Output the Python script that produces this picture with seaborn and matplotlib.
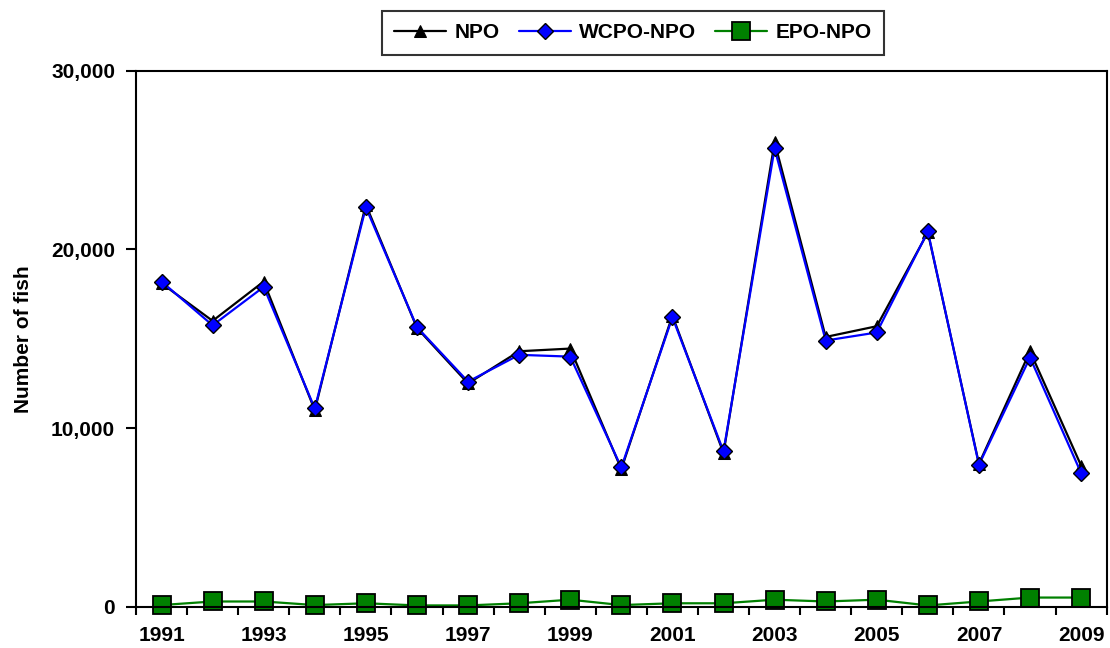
import matplotlib.pyplot as plt
import matplotlib.ticker as mticker
import seaborn as sns
import pandas as pd

years = list(range(1991, 2010))
npo = [18100, 16000, 18200, 11000, 22500, 15600, 12500, 14300, 14450, 7700,
       16300, 8600, 26000, 15100, 15700, 20950, 8000, 14300, 7900]
wcpo_npo = [18200, 15750, 17900, 11100, 22350, 15650, 12600, 14100, 14000, 7800,
            16200, 8700, 25650, 14900, 15350, 21000, 7950, 13950, 7480]
epo_npo = [100, 300, 300, 100, 200, 80, 80, 200, 400, 100,
           200, 200, 400, 300, 400, 80, 300, 520, 520]

df = pd.DataFrame({'year': years, 'NPO': npo, 'WCPO-NPO': wcpo_npo, 'EPO-NPO': epo_npo})

sns.set_style('ticks')
plt.rcParams['font.family'] = ['Liberation Sans', 'DejaVu Sans']
plt.rcParams['font.weight'] = 'bold'
plt.rcParams['text.color'] = 'black'
plt.rcParams['axes.labelcolor'] = 'black'
plt.rcParams['xtick.color'] = 'black'
plt.rcParams['ytick.color'] = 'black'

fig = plt.figure(figsize=(11.1, 6.48), dpi=100)
ax = fig.add_axes([0.1225, 0.0635, 0.8745, 0.8275])

sns.lineplot(data=df, x='year', y='NPO', ax=ax, color='black', lw=1.6,
             marker='^', markersize=9, markerfacecolor='black', markeredgecolor='black',
             label='NPO')
sns.lineplot(data=df, x='year', y='WCPO-NPO', ax=ax, color='blue', lw=1.6,
             marker='D', markersize=8, markerfacecolor='blue', markeredgecolor='black',
             markeredgewidth=1.0, label='WCPO-NPO')
sns.lineplot(data=df, x='year', y='EPO-NPO', ax=ax, color='green', lw=1.6,
             marker='s', markersize=12.5, markerfacecolor='green', markeredgecolor='black',
             markeredgewidth=1.3, label='EPO-NPO', clip_on=False)

ax.set_xlim(1990.5, 2009.5)
ax.set_ylim(0, 30000)
ax.set_yticks([0, 10000, 20000, 30000])
ax.yaxis.set_major_formatter(mticker.FuncFormatter(lambda v, p: f'{int(v):,}'))
# category boundaries carry the tick marks, every second year gets a label
ax.xaxis.set_major_locator(mticker.FixedLocator([y + 0.5 for y in range(1990, 2010)]))
ax.xaxis.set_major_formatter(mticker.NullFormatter())
ax.xaxis.set_minor_locator(mticker.FixedLocator(years[::2]))
ax.xaxis.set_minor_formatter(mticker.FuncFormatter(lambda v, p: f'{int(round(v))}'))
ax.tick_params(axis='x', which='major', bottom=True, length=6, width=1.5,
               direction='out', color='black')
ax.tick_params(axis='x', which='minor', bottom=True, length=0, labelsize=15, pad=14)
ax.tick_params(axis='y', which='major', left=True, length=7, width=1.5, direction='out',
               labelsize=15, pad=8, color='black')
for lbl in ax.get_xticklabels(minor=True) + ax.get_yticklabels():
    lbl.set_fontweight('bold')

for s in ax.spines.values():
    s.set_visible(True)
    s.set_color('black')
    s.set_linewidth(1.5)

ax.set_xlabel('')
ax.set_ylabel('Number of fish', fontsize=15, fontweight='bold', labelpad=13)

leg = ax.legend(loc='lower center', bbox_to_anchor=(0.512, 1.01), ncol=3, frameon=True,
                fancybox=False, edgecolor='black', fontsize=15, handlelength=2.5,
                columnspacing=0.9, handletextpad=0.4, borderpad=0.6)
leg.get_frame().set_linewidth(1.5)
for t in leg.get_texts():
    t.set_fontweight('bold')

fig.savefig('out.png', dpi=100)
